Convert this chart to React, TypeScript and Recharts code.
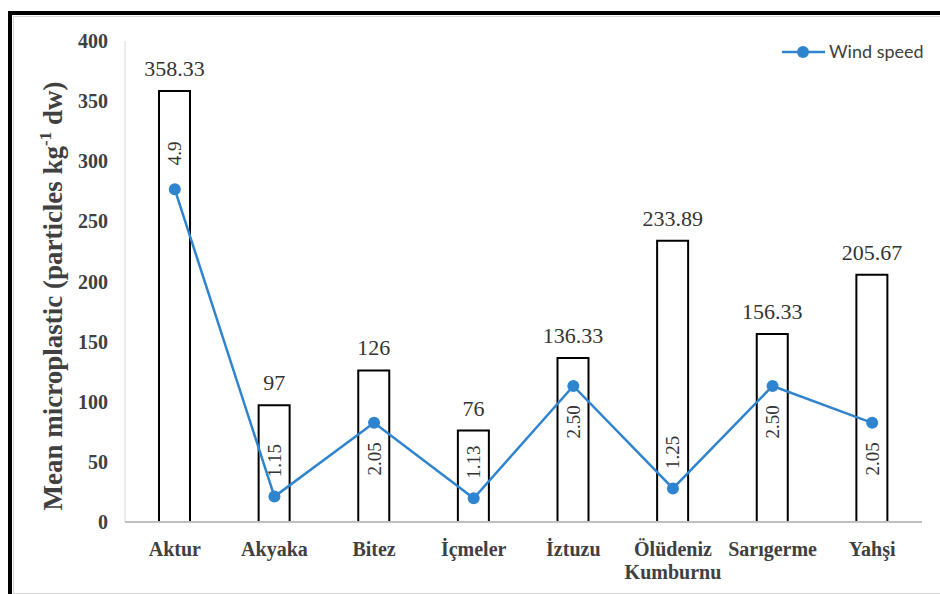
import React from "react";
import {
  ComposedChart,
  Bar,
  Line,
  XAxis,
  YAxis,
  LabelList,
  Label,
} from "recharts";

// Sampling beaches
const beaches = [
  "Aktur",
  "Akyaka",
  "Bitez",
  "İçmeler",
  "İztuzu",
  "Ölüdeniz Kumburnu",
  "Sarıgerme",
  "Yahşi",
];

// Mean microplastic abundance (particles kg-1 dw)
const meanMicroplastic = [358.33, 97, 126, 76, 136.33, 233.89, 156.33, 205.67];

// Wind speed as reported (string keeps the printed precision)
const windSpeed = ["4.9", "1.15", "2.05", "1.13", "2.50", "1.25", "2.50", "2.05"];

// Beaches whose wind-speed label sits under the marker
const windLabelBelow = ["Bitez", "İztuzu", "Sarıgerme", "Yahşi"];

const yTicks = [0, 50, 100, 150, 200, 250, 300, 350, 400];

const data = beaches.map((name, i) => ({
  name,
  micro: meanMicroplastic[i],
  wind: Number(windSpeed[i]),
  windText: windSpeed[i],
}));

const SERIF = "'Liberation Serif', 'Times New Roman', serif";
const SANS = "Lato, 'Liberation Sans', sans-serif";
const BLUE = "#2f84cf";

const XTick = (props: any) => {
  const { x, y, payload } = props;
  const lines = String(payload.value).split(" ");
  return (
    <text
      x={x}
      y={y}
      textAnchor="middle"
      fill="#404040"
      style={{ fontFamily: SERIF, fontWeight: "bold", fontSize: 20 }}
    >
      {lines.map((l: string, i: number) => (
        <tspan key={i} x={x} dy={i === 0 ? 32 : 23}>
          {l}
        </tspan>
      ))}
    </text>
  );
};

const YTick = (props: any) => {
  const { x, y, payload } = props;
  return (
    <text
      x={x}
      y={y}
      dy={7}
      textAnchor="end"
      fill="#404040"
      style={{ fontFamily: SERIF, fontWeight: "bold", fontSize: 20 }}
    >
      {payload.value}
    </text>
  );
};

const BarValue = (props: any) => {
  const { x, y, width, value } = props;
  return (
    <text
      x={x + width / 2}
      y={y - 15}
      textAnchor="middle"
      fill="#333"
      style={{ fontFamily: SERIF, fontSize: 22 }}
    >
      {value}
    </text>
  );
};

const WindValue = (props: any) => {
  const { x, y, index } = props;
  const row = data[index];
  const below = windLabelBelow.includes(row.name);
  const cy = below ? y + 36 : y - 36;
  return (
    <text
      x={x}
      y={cy}
      textAnchor="middle"
      dominantBaseline="central"
      transform={`rotate(-90, ${x}, ${cy})`}
      fill="#333"
      style={{ fontFamily: SERIF, fontSize: 19 }}
    >
      {row.windText}
    </text>
  );
};

const AxisTitle = () => {
  const x = 62;
  const y = 296;
  return (
    <text
      x={x}
      y={y}
      textAnchor="middle"
      transform={`rotate(-90, ${x}, ${y})`}
      fill="#404040"
      style={{ fontFamily: SERIF, fontWeight: "bold", fontSize: 27 }}
    >
      <tspan>Mean microplastic (particles kg</tspan>
      <tspan style={{ fontSize: 17 }} dy={-11}>
        -1
      </tspan>
      <tspan dy={11}> dw)</tspan>
    </text>
  );
};

const WindLegend = () => (
  <svg
    width={160}
    height={24}
    style={{ position: "absolute", left: 780, top: 40 }}
  >
    <line x1={2} y1={12} x2={45} y2={12} stroke={BLUE} strokeWidth={2.5} />
    <circle cx={23} cy={12} r={6} fill={BLUE} />
    <text x={49} y={18} fill="#404040" style={{ fontFamily: SANS, fontSize: 18 }}>
      Wind speed
    </text>
  </svg>
);

export default function App() {
  return (
    <div
      style={{
        position: "fixed",
        left: 0,
        top: 0,
        width: 940,
        height: 594,
        overflow: "hidden",
        background: "#fff",
      }}
    >
      <div
        style={{
          position: "absolute",
          left: 8,
          top: 11,
          width: 1000,
          height: 1000,
          borderLeft: "4px solid #000",
          borderTop: "4px solid #000",
        }}
      />
      <div
        style={{
          position: "absolute",
          left: 13,
          top: 16,
          width: 960,
          height: 576,
          border: "1px solid #d4d4d4",
        }}
      />
      <div style={{ position: "absolute", left: 0, top: 0 }}>
        <ComposedChart
          width={940}
          height={594}
          data={data}
          margin={{ top: 41, right: 18, bottom: 0, left: 0 }}
        >
          <XAxis
            dataKey="name"
            tick={<XTick />}
            tickLine={false}
            tickSize={0}
            axisLine={{ stroke: "#bfbfbf", strokeWidth: 2 }}
            interval={0}
            height={72}
          />
          <YAxis
            yAxisId="left"
            width={125}
            domain={[0, 400]}
            ticks={yTicks}
            tick={<YTick />}
            tickLine={false}
            tickSize={0}
            tickMargin={17}
            axisLine={{ stroke: "#d9d9d9", strokeWidth: 1 }}
          >
            <Label content={<AxisTitle />} />
          </YAxis>
          <YAxis
            yAxisId="wind"
            orientation="right"
            hide
            domain={[0.84, 6.71]}
            allowDataOverflow
          />
          <Bar
            yAxisId="left"
            dataKey="micro"
            fill="#fff"
            stroke="#000"
            strokeWidth={2}
            barSize={31}
            isAnimationActive={false}
          >
            <LabelList dataKey="micro" content={<BarValue />} />
          </Bar>
          <Line
            yAxisId="wind"
            dataKey="wind"
            name="Wind speed"
            stroke={BLUE}
            strokeWidth={2.5}
            dot={{ r: 6, fill: BLUE, stroke: BLUE, strokeWidth: 0 }}
            activeDot={false}
            isAnimationActive={false}
          >
            <LabelList dataKey="wind" content={<WindValue />} />
          </Line>
        </ComposedChart>
      </div>
      <WindLegend />
    </div>
  );
}
